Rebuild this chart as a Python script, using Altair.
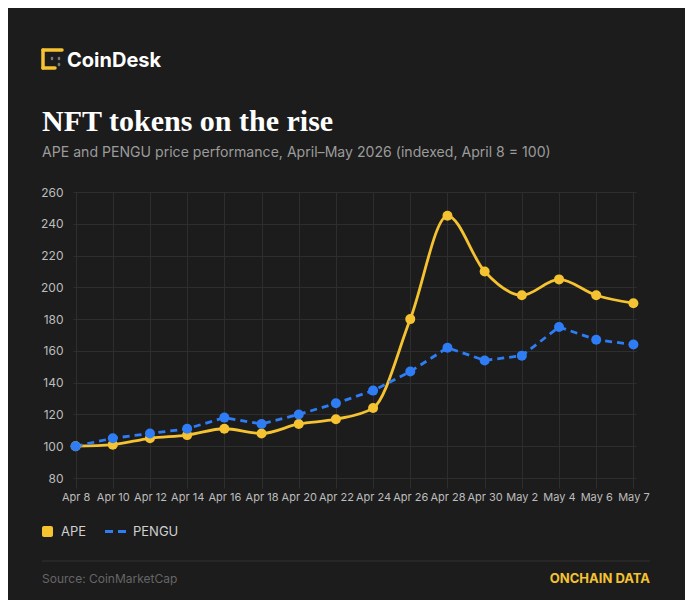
import altair as alt
import pandas as pd

dates = ["Apr 8", "Apr 10", "Apr 12", "Apr 14", "Apr 16", "Apr 18", "Apr 20", "Apr 22",
         "Apr 24", "Apr 26", "Apr 28", "Apr 30", "May 2", "May 4", "May 6", "May 7"]
ape = [100, 101, 105, 107, 111, 108, 114, 117, 124, 180, 245, 210, 195, 205, 195, 190]
pengu = [100, 105, 108, 111, 118, 114, 120, 127, 135, 147, 162, 154, 157, 175, 167, 164]
series = ["APE", "PENGU"]
colors = ["#F5C232", "#2F7DF4"]
y_ticks = [80, 100, 120, 140, 160, 180, 200, 220, 240, 260]

rows = []
for d, a, p in zip(dates, ape, pengu):
    rows.append({"date": d, "series": "APE", "value": a})
    rows.append({"date": d, "series": "PENGU", "value": p})
df = pd.DataFrame(rows)

BG = "#1c1c1c"
GRID = "#2e2e2e"
FONT = "Inter"

x_enc = alt.X("date:O", sort=dates, title=None,
              scale=alt.Scale(type="point", padding=0.07),
              axis=alt.Axis(labelAngle=0, labelColor="#bdbdbd", labelFontSize=11,
                            labelFont=FONT, grid=True, gridColor=GRID, domain=False,
                            ticks=True, tickColor=GRID, tickSize=10, labelPadding=3))
y_enc = alt.Y("value:Q", title=None,
              scale=alt.Scale(domain=[80, 260], nice=False, zero=False),
              axis=alt.Axis(values=y_ticks, labelColor="#bdbdbd", labelFontSize=12,
                            labelFont=FONT, grid=True, gridColor=GRID, domain=False,
                            ticks=False, labelPadding=10))

color_enc = alt.Color("series:N", scale=alt.Scale(domain=series, range=colors), legend=None)

base = alt.Chart(df).encode(x=x_enc, y=y_enc, color=color_enc)

ape_line = base.transform_filter(alt.datum.series == "APE").mark_line(
    interpolate="monotone", strokeWidth=2.8)
pengu_line = base.transform_filter(alt.datum.series == "PENGU").mark_line(
    strokeWidth=2.8, strokeDash=[7, 5])
points = base.mark_circle(size=100, opacity=1)


def one():
    return alt.Chart(alt.Data(values=[{}]))


def txt(text, x, y, size, color, weight="normal", font=FONT, align="left"):
    return one().mark_text(
        text=text, fontSize=size, color=color, fontWeight=weight, font=font,
        align=align, baseline="alphabetic").encode(x=alt.value(x), y=alt.value(y))


def rule(x, x2, y, y2, color, width, cap="butt", dash=None):
    kw = dict(color=color, strokeWidth=width, strokeCap=cap)
    if dash:
        kw["strokeDash"] = dash
    return one().mark_rule(**kw).encode(
        x=alt.value(x), x2=alt.value(x2), y=alt.value(y), y2=alt.value(y2))


# offsets below are measured from the plot area's top-left corner
logo = [
    rule(-30, -11, -142, -142, colors[0], 3.5, "round"),
    rule(-30, -30, -142, -124, colors[0], 3.5, "round"),
    rule(-30, -18, -124, -124, colors[0], 3.5, "round"),
    rule(-14, -14, -134, -133, "#777777", 2.5, "round"),
    rule(-14, -14, -128, -127, "#777777", 2.5, "round"),
    rule(-21, -21, -134, -133, "#777777", 2.5, "round"),
    txt("CoinDesk", -6, -125, 20, "#ffffff", "bold"),
]
legend = [
    one().mark_rect(color=colors[0], cornerRadius=2).encode(
        x=alt.value(-31), x2=alt.value(-20), y=alt.value(334), y2=alt.value(345)),
    txt(series[0], -12, 344, 13, "#d0d0d0"),
    rule(32, 53, 339.5, 339.5, colors[1], 3, "butt", [8, 5]),
    txt(series[1], 60, 344, 13, "#d0d0d0"),
]
texts = [
    txt("NFT tokens on the rise", -31, -61, 30, "#ffffff", "bold", "Liberation Serif"),
    txt("APE and PENGU price performance, April\u2013May 2026 (indexed, April 8 = 100)",
        -31, -35, 14.1, "#9b9b9b"),
    rule(-31, 577, 369, 369, "#333333", 1),
    txt("Source: CoinMarketCap", -31, 391, 12, "#666666"),
    txt("ONCHAIN DATA", 577, 391, 13, colors[0], "bold", FONT, "right"),
]

chart = alt.layer(ape_line, pengu_line, points, *logo, *legend, *texts).properties(
    width=563, height=286, autosize="none",
    padding={"left": 65, "top": 184, "right": 49, "bottom": 122},
).configure(background=BG).configure_view(stroke=None)

chart.save("out.html", embed_options={"renderer": "svg", "actions": False})
